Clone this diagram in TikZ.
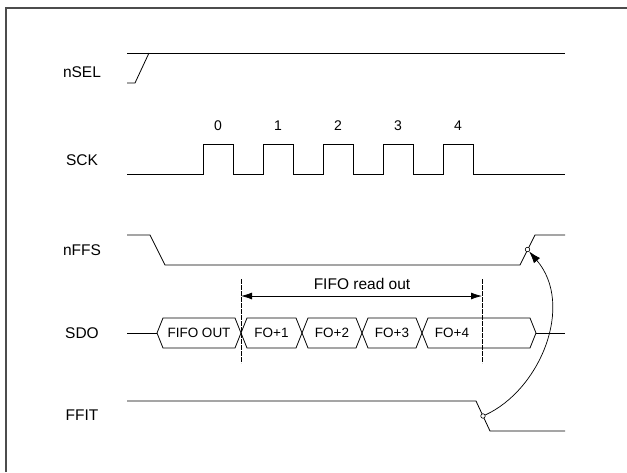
\documentclass[tikz,border=0pt]{standalone}
\usepackage{fontspec}
\setmainfont{Liberation Sans}
\usetikzlibrary{arrows.meta}
\begin{document}
\begin{tikzpicture}[x=1pt,y=-1pt,
  sig/.style={line width=0.8pt, black},
  lab/.style={font=\fontsize{15.5}{18}\selectfont, inner sep=0pt},
  num/.style={font=\fontsize{14}{16}\selectfont, inner sep=0pt},
  bus/.style={font=\fontsize{13.5}{16}\selectfont, inner sep=0pt},
  marker/.style={line width=0.8pt, dash pattern=on 5pt off 1pt},
  circ/.style={circle, draw, fill=white, inner sep=0pt, minimum size=4.5pt, line width=0.6pt},
  tip/.style={-{Latex[length=12pt,width=8pt]}}
]
\useasboundingbox (0,0) rectangle (627,472);
\draw[gray!60!black, line width=1.6pt] (6,472) -- (6,8) -- (627,8);

% labels
\node[lab] (lnsel) at (82,72) {nSEL};
\node[lab] (lsck)  at (82,160) {SCK};
\node[lab] (lnffs) at (82,250) {nFFS};
\node[lab] (lsdo)  at (82,333) {SDO};
\node[lab] (lffit) at (82,415) {FFIT};

% nSEL
\draw[sig] (127,53) -- (565,53);
\draw[sig] (127,83) -- (135,83) -- (149,53);

% SCK
\draw[sig] (127,174) -- (203,174) -- (203,144) -- (233,144) -- (233,174)
  -- (263,174) -- (263,144) -- (293,144) -- (293,174)
  -- (323,174) -- (323,144) -- (353,144) -- (353,174)
  -- (383,174) -- (383,144) -- (413,144) -- (413,174)
  -- (443,174) -- (443,144) -- (473,144) -- (473,174) -- (565,174);
\foreach \i in {0,...,4} {
  \node[num] (n\i) at (218+60*\i,126) {\i};
}

% nFFS
\draw[sig] (127,235) -- (150,235) -- (165,265) -- (520,265) -- (535,235) -- (565,235);

% SDO
\draw[sig] (127,333) -- (157,333);
\draw[sig] (536,333) -- (565,333);
\foreach \a/\b in {157/241, 241/302, 302/362, 362/422, 422/536} {
  \draw[sig] (\a,333) -- (\a+6,318) -- (\b-6,318) -- (\b,333) -- (\b-6,348) -- (\a+6,348) -- cycle;
}
\node[bus] (d0) at (199,333) {FIFO OUT};
\node[bus] (d1) at (271.5,333) {FO+1};
\node[bus] (d2) at (332,333) {FO+2};
\node[bus] (d3) at (392,333) {FO+3};
\node[bus] (d4) at (452,333) {FO+4};

% markers
\coordinate (ma) at (241,279);
\coordinate (mb) at (241,363);
\coordinate (mc) at (482,279);
\coordinate (md) at (482,363);
\draw[marker] (ma) -- (mb);
\draw[marker] (mc) -- (md);
\coordinate (ra) at (241,296);
\coordinate (rb) at (482,296);
\draw[line width=0.8pt, {Latex[length=11pt,width=7pt]}-{Latex[length=11pt,width=7pt]}] (ra) -- (rb);
\node[lab] (rlab) at (362,284) {FIFO read out};

% FFIT
\draw[sig] (127,401) -- (476,401) -- (490,431) -- (565,431);

% cause arrow
\node[circ] (c1) at (527.5,249.5) {};
\node[circ] (c2) at (483,416) {};
\draw[line width=0.7pt, tip] (c2) .. controls (540,390) and (575,305) .. (c1);
\end{tikzpicture}
\end{document}
